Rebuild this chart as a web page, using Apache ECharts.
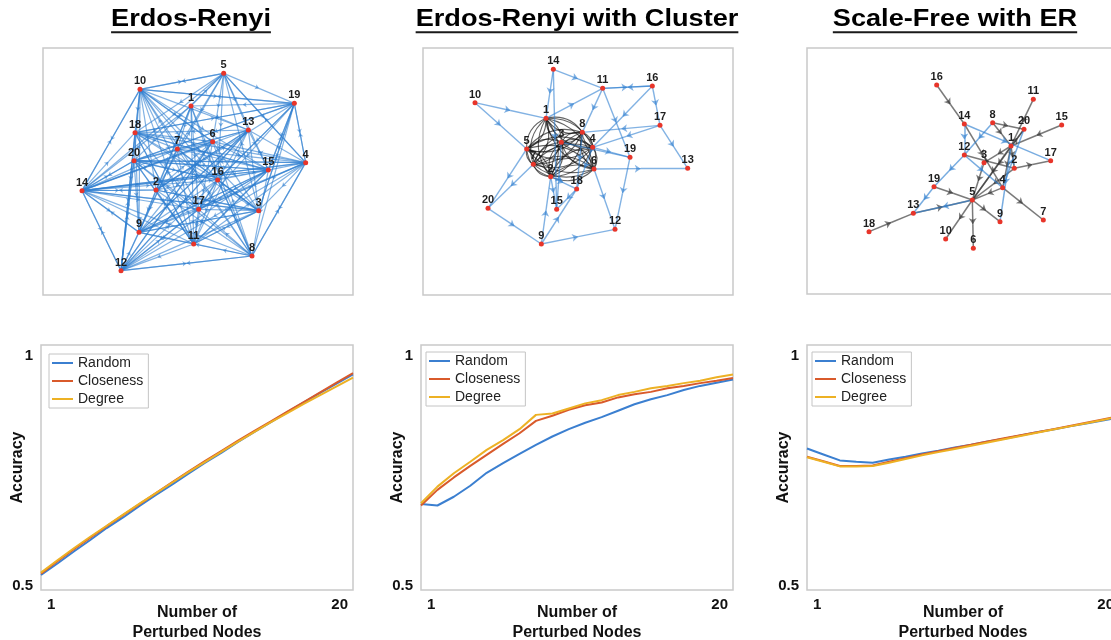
<!DOCTYPE html>
<html>
<head>
<meta charset="utf-8">
<script src="https://cdn.jsdelivr.net/npm/echarts@6/dist/echarts.min.js"></script>
<style>html,body{margin:0;padding:0;background:#fff}#c{width:1111px;height:640px}</style>
</head>
<body>
<div id="c"></div>
<script>
// ---------------- DATA ----------------
const titles = ['Erdos-Renyi', 'Erdos-Renyi with Cluster', 'Scale-Free with ER'];
const seriesNames = ['Random', 'Closeness', 'Degree'];
const xValues = [1,2,3,4,5,6,7,8,9,10,11,12,13,14,15,16,17,18,19,20];
const xTickValues = [1, 20];
const yTickValues = [0.5, 1];
const xAxisTitle = 'Number of\nPerturbed Nodes';
const yAxisTitle = 'Accuracy';

// Erdos-Renyi
const random1     = [0.524,0.549,0.575,0.600,0.626,0.649,0.674,0.698,0.721,0.745,0.768,0.790,0.813,0.835,0.856,0.878,0.899,0.920,0.940,0.960];
const closeness1  = [0.527,0.554,0.580,0.605,0.630,0.654,0.678,0.702,0.726,0.749,0.772,0.794,0.816,0.837,0.858,0.879,0.900,0.921,0.942,0.963];
const degree1     = [0.529,0.556,0.582,0.607,0.631,0.655,0.679,0.702,0.725,0.748,0.770,0.792,0.814,0.835,0.856,0.876,0.896,0.915,0.934,0.953];
// Erdos-Renyi with Cluster
const random2     = [0.678,0.675,0.694,0.718,0.746,0.767,0.787,0.807,0.825,0.841,0.855,0.867,0.881,0.895,0.906,0.915,0.926,0.935,0.942,0.949];
const closeness2  = [0.675,0.709,0.736,0.761,0.785,0.809,0.832,0.859,0.870,0.883,0.893,0.899,0.910,0.917,0.922,0.930,0.935,0.941,0.946,0.952];
const degree2     = [0.680,0.716,0.745,0.770,0.796,0.817,0.841,0.872,0.875,0.886,0.897,0.904,0.915,0.922,0.930,0.935,0.941,0.946,0.954,0.960];
// Scale-Free with ER
const random3     = [0.799,0.786,0.773,0.770,0.768,0.775,0.781,0.788,0.794,0.801,0.807,0.814,0.820,0.827,0.834,0.840,0.847,0.853,0.860,0.866];
const closeness3  = [0.781,0.771,0.761,0.761,0.762,0.770,0.778,0.786,0.793,0.800,0.807,0.814,0.821,0.828,0.834,0.841,0.848,0.855,0.862,0.869];
const degree3     = [0.780,0.770,0.760,0.760,0.761,0.768,0.776,0.784,0.791,0.798,0.805,0.812,0.819,0.826,0.833,0.840,0.847,0.854,0.861,0.868];

// Network layouts: [node, x, y] in drawing units of each panel
const erNodes = [[5,551,100],[10,300,148],[19,763,190],[1,453,198],[13,625,270],[18,285,278],[6,518,305],[7,412,327],[20,282,362],[4,797,368],
  [15,685,390],[16,533,420],[14,126,452],[2,348,450],[17,476,508],[3,656,512],[9,297,577],[11,461,612],[8,636,648],[12,243,692]];
const erAdjacency = {
  1:[5,7,16,17,11,13,2,14,9,8], 2:[5,6,13,15,3,8,11,9,14,19], 3:[13,19,5,11,12,9,16,2,14], 4:[19,13,5,6,16,14,17,8,3,20,12],
  5:[10,19,13,6,18,7,20,15,4,16,14], 6:[18,20,14,12,9,15,11,3,10], 7:[13,15,4,8,3,12,9,16,10,14], 8:[12,9,11,14,17,16,20,6,4,10],
  9:[17,3,18,10,15,11,14,13,4], 10:[5,18,20,14,16,3,17,15,13,19,11,2,6,12], 11:[12,14,20,7,3,4,15,18], 12:[14,20,18,9,17,16,8,6,15,13],
  13:[18,20,2,17,9,14,11,12], 14:[10,18,20,2,16,3,15,4,12,9,6,17], 15:[19,13,17,11,8,9,18,20,14], 16:[17,11,8,19,20,9,3],
  17:[3,11,12,18,20,4,15], 18:[7,16,15,4,3,11,19,12], 19:[4,10,16,18,17,3,8,20,1,15], 20:[14,12,9,4,15,16,19,11]
};

const clNodes = [[14,400,88],[11,548,145],[16,697,138],[10,165,188],[1,378,235],[17,720,256],[8,487,277],[3,424,307],[5,320,327],[4,518,322],
  [19,630,352],[7,340,373],[6,522,387],[13,803,385],[2,392,410],[18,470,447],[15,410,508],[20,204,505],[12,585,568],[9,364,612]];
const clClusterPairs = [[1,2],[1,3],[1,4],[1,5],[1,6],[1,7],[1,8],[2,3],[2,4],[2,5],[2,6],[2,7],[2,8],[3,4],[3,5],[3,6],[3,7],[3,8],
  [4,5],[4,6],[4,7],[4,8],[5,6],[5,7],[5,8],[6,7],[6,8],[7,8]];
const clOuterEdges = [[10,1],[10,5],[14,1],[14,11],[14,15],[1,11],[11,16],[16,11],[11,8],[11,19],[16,17],[16,4],[17,8],[17,4],[17,13],
  [4,19],[3,19],[6,13],[6,12],[19,12],[9,12],[20,9],[5,20],[7,20],[9,2],[9,18],[2,15],[15,3],[18,15],[2,18],[8,18],[4,18]];

const sfNodes = [[16,410,135],[11,700,178],[15,785,255],[14,493,252],[8,578,248],[20,672,268],[1,633,318],[17,752,362],[12,493,345],[3,552,368],
  [2,643,385],[4,608,443],[19,402,440],[5,517,480],[7,730,540],[9,600,545],[13,340,520],[18,207,575],[10,437,597],[6,520,625]];
const sfBaseEdges = [[16,14],[14,4],[8,20],[8,1],[11,1],[15,1],[1,3],[1,5],[1,2],[1,4],[12,2],[2,17],[3,5],[19,5],[13,5],[18,13],
  [5,10],[5,6],[5,9],[4,7],[2,5],[4,5],[20,5],[1,20]];
const sfAddedEdges = [[14,12],[14,17],[8,12],[12,19],[12,4],[19,13],[5,13],[1,9],[4,20]];

// ---------------- STYLE / LAYOUT ----------------
const lineColors = ['#3b7fd0', '#d95a2b', '#edb124'];
const edgeBlue = '#2f7fd0';
const nodeRed = '#e8352a';
const boxColor = '#c9c9c9';
const topGrids = [
  {left:43, top:48, width:310, height:247},
  {left:423, top:48, width:310, height:247},
  {left:807, top:48, width:310, height:246}
];
const topRanges = [
  {x:[9,939], y:[24,765]},
  {x:[9,939], y:[24,765]},
  {x:[21,951], y:[24,762]}
];
const botGrids = [
  {left:41, top:345, width:312, height:245},
  {left:421, top:345, width:312, height:245},
  {left:807, top:345, width:312, height:245}
];
const legendPos = [{left:49, top:354}, {left:426, top:352}, {left:812, top:352}];
const titleCenters = [191, 577, 955];

function buildGraph(nodes, groups, idx) {
  const pos = {};
  nodes.forEach(n => pos[n[0]] = [n[1], n[2]]);
  const data = nodes.map(n => ({
    name: String(n[0]), value: [n[1], n[2]], symbolSize: 5,
    itemStyle: {color: nodeRed}, label: {show: true}
  }));
  const links = [];
  groups.forEach((g, gi) => {
    g.edges.forEach(e => {
      const s = e[0], t = e[1];
      if (g.arrow) {
        const m = 'm' + gi + '_' + s + '_' + t;
        const a = pos[s], b = pos[t];
        data.push({name: m, value: [(a[0] + b[0]) / 2, (a[1] + b[1]) / 2], symbolSize: 0,
          label: {show: false}, itemStyle: {opacity: 0}});
        links.push({source: String(s), target: m, symbol: ['none', 'arrow'], symbolSize: [0, g.arrow], lineStyle: g.style});
        links.push({source: m, target: String(t), symbol: ['none', 'none'], lineStyle: g.style});
      } else {
        links.push({source: String(s), target: String(t), symbol: ['none', 'none'], lineStyle: g.style});
      }
    });
  });
  return {
    type: 'graph', coordinateSystem: 'cartesian2d', xAxisIndex: idx, yAxisIndex: idx,
    silent: true, animation: false, roam: false,
    label: {position: 'top', distance: 0, fontSize: 11, fontWeight: 'bold', fontFamily: 'Liberation Sans', color: '#1e1e1e', formatter: '{b}'},
    data: data, links: links
  };
}

const erEdgeList = [];
Object.keys(erAdjacency).forEach(k => erAdjacency[k].forEach(t => erEdgeList.push([Number(k), t])));
const clClusterEdges = [];
clClusterPairs.forEach(p => { clClusterEdges.push([p[0], p[1]]); clClusterEdges.push([p[1], p[0]]); });

const graphSeries = [
  buildGraph(erNodes, [
    {edges: erEdgeList, arrow: 4, style: {color: edgeBlue, opacity: 0.6, width: 1.2}}
  ], 0),
  buildGraph(clNodes, [
    {edges: clClusterEdges, arrow: 0, style: {color: '#111', opacity: 0.65, width: 1.1, curveness: 0.34}},
    {edges: clOuterEdges, arrow: 6, style: {color: edgeBlue, opacity: 0.6, width: 1.4}}
  ], 1),
  buildGraph(sfNodes, [
    {edges: sfBaseEdges, arrow: 6, style: {color: '#333', opacity: 0.65, width: 1.5}},
    {edges: sfAddedEdges, arrow: 6, style: {color: edgeBlue, opacity: 0.65, width: 1.5}}
  ], 2)
];

const lineData = [[random1, closeness1, degree1], [random2, closeness2, degree2], [random3, closeness3, degree3]];
const lineSeries = [];
lineData.forEach((set, ci) => {
  set.forEach((arr, si) => {
    lineSeries.push({
      type: 'line', name: seriesNames[si], xAxisIndex: 3 + ci, yAxisIndex: 3 + ci,
      data: xValues.map((x, j) => [x, arr[j]]),
      showSymbol: false, symbol: 'none', silent: true, animation: false,
      lineStyle: {color: lineColors[si], width: 2}, itemStyle: {color: lineColors[si]}
    });
  });
});

const grids = topGrids.concat(botGrids).map(g => Object.assign({
  show: true, borderColor: boxColor, borderWidth: 1.5, backgroundColor: '#fff',
  containLabel: false, outerBoundsMode: 'none'
}, g));

const xAxes = [], yAxes = [];
topRanges.forEach((r, i) => {
  xAxes.push({gridIndex: i, type: 'value', min: r.x[0], max: r.x[1], show: false});
  yAxes.push({gridIndex: i, type: 'value', min: r.y[0], max: r.y[1], inverse: true, show: false});
});
const tickFont = {fontSize: 15, fontWeight: 'bold', fontFamily: 'Liberation Sans', color: '#111'};
botGrids.forEach((g, i) => {
  xAxes.push({
    gridIndex: 3 + i, type: 'value', min: 1, max: 20,
    axisLine: {show: false}, axisTick: {show: false}, splitLine: {show: false},
    axisLabel: Object.assign({customValues: xTickValues, margin: 7, alignMinLabel: 'left', alignMaxLabel: 'right', padding: [0, 5, 0, 6]}, tickFont),
    name: xAxisTitle, nameLocation: 'middle', nameGap: 13, nameMoveOverlap: false,
    nameTextStyle: {fontSize: 16, fontWeight: 'bold', fontFamily: 'Liberation Sans', color: '#111', lineHeight: 20}
  });
  yAxes.push({
    gridIndex: 3 + i, type: 'value', min: 0.4913, max: 1.0239,
    axisLine: {show: false}, axisTick: {show: false}, splitLine: {show: false},
    axisLabel: Object.assign({customValues: yTickValues, margin: 8}, tickFont),
    name: yAxisTitle, nameLocation: 'middle', nameRotate: 90, nameGap: 15, nameMoveOverlap: false,
    nameTextStyle: {fontSize: 16, fontWeight: 'bold', fontFamily: 'Liberation Sans', color: '#111'}
  });
});

const legends = legendPos.map(p => ({
  left: p.left, top: p.top, orient: 'vertical', data: seriesNames, icon: 'rect',
  itemWidth: 21, itemHeight: 2, itemGap: 4, padding: [2, 5, 2, 3],
  borderColor: '#c4c4c4', borderWidth: 1, backgroundColor: '#fff', selectedMode: false,
  textStyle: {fontSize: 14, fontFamily: 'Liberation Sans', color: '#222'}
}));

// titles (underlined)
const ctx = document.createElement('canvas').getContext('2d');
ctx.font = 'bold 23px "Liberation Sans"';
const titleScale = 1.18;
const graphics = titles.map((t, i) => {
  const w = ctx.measureText(t).width * titleScale;
  return {
    type: 'group', x: titleCenters[i], y: 20, silent: true,
    children: [
      {type: 'text', scaleX: titleScale, style: {text: t, x: 0, y: 0, align: 'center', verticalAlign: 'middle',
        fontSize: 23, fontWeight: 'bold', fontFamily: 'Liberation Sans', fill: '#000'}},
      {type: 'rect', shape: {x: -w / 2, y: 11.3, width: w, height: 2}, style: {fill: '#1a1a1a'}}
    ]
  };
});

const chart = echarts.init(document.getElementById('c'));
chart.setOption({
  animation: false,
  backgroundColor: '#fff',
  grid: grids,
  xAxis: xAxes,
  yAxis: yAxes,
  legend: legends,
  graphic: graphics,
  series: graphSeries.concat(lineSeries)
});
</script>
</body>
</html>
